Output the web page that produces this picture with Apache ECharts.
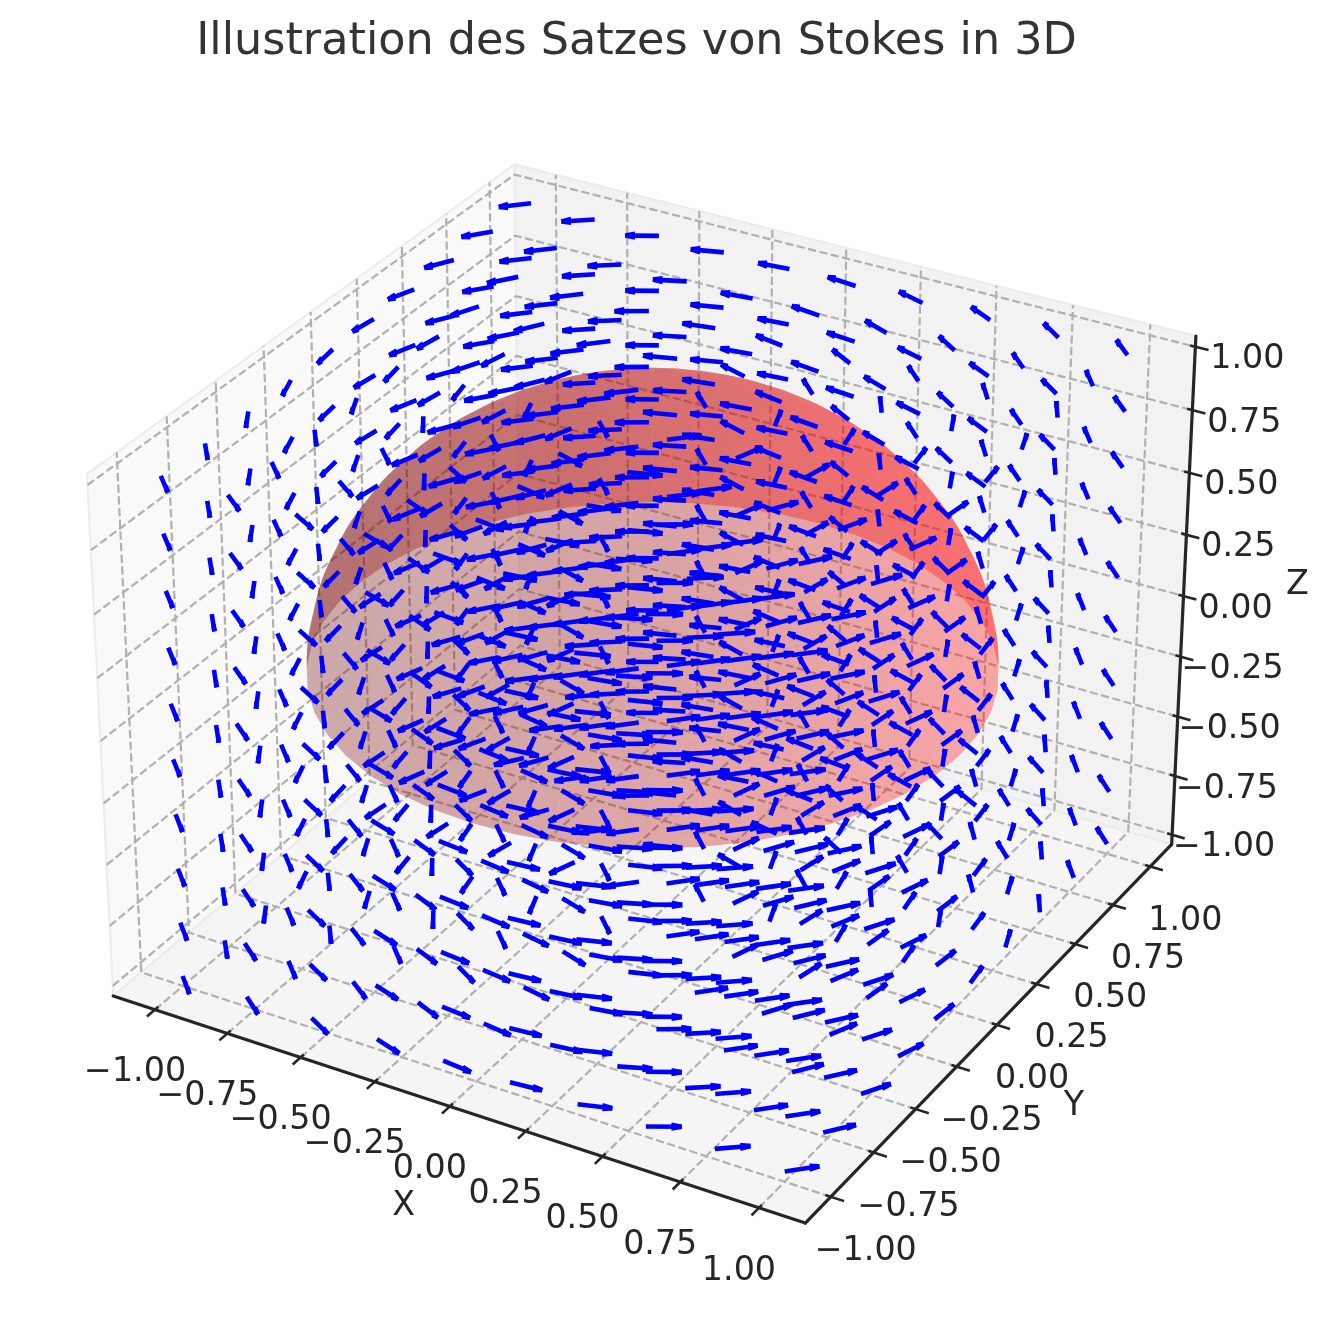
<!DOCTYPE html>
<html><head><meta charset="utf-8">
<style>html,body{margin:0;padding:0;background:#fff}#c{width:1327px;height:1322px}</style>
<script src="https://cdn.jsdelivr.net/npm/echarts@6/dist/echarts.min.js"></script>
</head><body><div id="c"></div>
<script>
const titleText = 'Illustration des Satzes von Stokes in 3D';
const axisNames = ['X', 'Y', 'Z'];
const tickValues = [-1, -0.75, -0.5, -0.25, 0, 0.25, 0.5, 0.75, 1];
const tickLabels = ['\u22121.00', '\u22120.75', '\u22120.50', '\u22120.25', '0.00', '0.25', '0.50', '0.75', '1.00'];
const xLimits = [-1.1, 1.1];
const yLimits = [-1.1, 1.1];
const zLimits = [-1, 1];
const arrowX = [-1, -0.7778, -0.5556, -0.3333, -0.1111, 0.1111, 0.3333, 0.5556, 0.7778, 1];
const arrowY = [-1, -0.7778, -0.5556, -0.3333, -0.1111, 0.1111, 0.3333, 0.5556, 0.7778, 1];
const arrowZ = [-1, -0.7778, -0.5556, -0.3333, -0.1111, 0.1111, 0.3333, 0.5556, 0.7778, 1];
const arrowLength = 0.1;
const arrowHeadRatio = 0.3;
// heading in the x-y plane (degrees from +x), one row per arrowY value
const arrowHeading = [
 [-45,-37.87,-29.05,-18.43,-6.34,6.34,18.43,29.05,37.87,45],
 [-52.13,-45,-35.54,-23.2,-8.13,8.13,23.2,35.54,45,52.13],
 [-60.95,-54.46,-45,-30.96,-11.31,11.31,30.96,45,54.46,60.95],
 [-71.57,-66.8,-59.04,-45,-18.43,18.43,45,59.04,66.8,71.57],
 [-83.66,-81.87,-78.69,-71.57,-45,45,71.57,78.69,81.87,83.66],
 [-96.34,-98.13,-101.31,-108.43,-135,135,108.43,101.31,98.13,96.34],
 [-108.43,-113.2,-120.96,-135,-161.57,161.57,135,120.96,113.2,108.43],
 [-119.05,-125.54,-135,-149.04,-168.69,168.69,149.04,135,125.54,119.05],
 [-127.87,-135,-144.46,-156.8,-171.87,171.87,156.8,144.46,135,127.87],
 [-135,-142.13,-150.95,-161.57,-173.66,173.66,161.57,150.95,142.13,135]
];
const domeRadius = 1;
const domeAzimuth = [0,7.5,15,22.5,30,37.5,45,52.5,60,67.5,75,82.5,90,97.5,105,112.5,120,127.5,135,142.5,150,157.5,165,172.5,180,187.5,195,202.5,210,217.5,225,232.5,240,247.5,255,262.5,270,277.5,285,292.5,300,307.5,315,322.5,330,337.5,345,352.5,360];
const domePolar = [0,2,4,6,8,10,12,14,16,18,20,22,24,26,28,30,32,34,36,38,40,42,44,46,48,50,52,54,56,58,60,62,64,66,68,70,72,74,76,78,80,82,84,86,88,90];

// --- mplot3d-style camera: elevation 30, azimuth -60, distance 10
const boxAspect = [1.19048, 1.19048, 0.89286];
const camU = [0.86603, 0.5, 0], camV = [-0.25, 0.43301, 0.86603], camW = [0.43301, -0.75, 0.5];
const camDist = 10;
const dot = (a, b) => a[0]*b[0] + a[1]*b[1] + a[2]*b[2];
function boxCoords(p) {
  return [
    (p[0] - (xLimits[0]+xLimits[1])/2) / (xLimits[1]-xLimits[0]) * boxAspect[0],
    (p[1] - (yLimits[0]+yLimits[1])/2) / (yLimits[1]-yLimits[0]) * boxAspect[1],
    (p[2] - (zLimits[0]+zLimits[1])/2) / (zLimits[1]-zLimits[0]) * boxAspect[2]
  ];
}
function project(p) {
  const q = boxCoords(p), w = camDist - dot(q, camW);
  return [dot(q, camU)/w, dot(q, camV)/w];
}
const depth = p => dot(boxCoords(p), camW);

const padX = (xLimits[1]-xLimits[0])/48, padY = (yLimits[1]-yLimits[0])/48, padZ = (zLimits[1]-zLimits[0])/48;
const x0 = xLimits[0]-padX, x1 = xLimits[1]+padX, y0 = yLimits[0]-padY, y1 = yLimits[1]+padY, z0 = zLimits[0]-padZ, z1 = zLimits[1]+padZ;

// --- panes
const paneRows = [
  {color:'#f9f9f9', pts:[[x0,y0,z0],[x0,y1,z0],[x0,y1,z1],[x0,y0,z1]]},
  {color:'#f2f2f2', pts:[[x0,y1,z0],[x1,y1,z0],[x1,y1,z1],[x0,y1,z1]]},
  {color:'#f5f5f5', pts:[[x0,y0,z0],[x1,y0,z0],[x1,y1,z0],[x0,y1,z0]]}
];
// --- grid polylines
const gridRows = [];
tickValues.forEach(t => {
  gridRows.push([[t,y0,z0],[t,y1,z0],[t,y1,z1]]);
  gridRows.push([[x1,t,z0],[x0,t,z0],[x0,t,z1]]);
  gridRows.push([[x0,y0,t],[x0,y1,t],[x1,y1,t]]);
});
// --- dome cells, far ones first
const toRad = Math.PI/180;
const spherePoint = (a, p) => [domeRadius*Math.cos(a*toRad)*Math.sin(p*toRad), domeRadius*Math.sin(a*toRad)*Math.sin(p*toRad), domeRadius*Math.cos(p*toRad)];
const light = [-0.6667, -0.6667, 0.3333];
const domeCells = [];
for (let i = 0; i < domeAzimuth.length-1; i++) for (let j = 0; j < domePolar.length-1; j++) {
  const pts = [spherePoint(domeAzimuth[i],domePolar[j]), spherePoint(domeAzimuth[i+1],domePolar[j]), spherePoint(domeAzimuth[i+1],domePolar[j+1]), spherePoint(domeAzimuth[i],domePolar[j+1])];
  const c = [0,1,2].map(k => (pts[0][k]+pts[1][k]+pts[2][k]+pts[3][k])/4);
  const n = Math.hypot(c[0],c[1],c[2]);
  const shade = -dot(c, light)/n;
  domeCells.push({pts, d: depth(c), k: Math.min(1, 0.45 + 0.7*(shade+1)/2)});
}
domeCells.sort((a,b) => a.d-b.d);
// --- arrows
const arrowRows = [];
arrowZ.forEach(z => arrowY.forEach((y,j) => arrowX.forEach((x,i) => arrowRows.push([x,y,z,arrowHeading[j][i]]))));

function polyItem(api, pts, style, closed) {
  const points = pts.map(p => api.coord(project(p)));
  return closed ? {type:'polygon', shape:{points}, style} : {type:'polyline', shape:{points}, style};
}
const lineSeries = (data, renderItem) => ({type:'custom', coordinateSystem:'cartesian2d', data, renderItem, silent:true, clip:false, animation:false, progressive:0, encode:{x:[],y:[]}});
const idx = arr => arr.map((_, i) => [i]);

// --- axes furniture
const axisLines = [[[x0,y0,z0],[x1,y0,z0]], [[x1,y0,z0],[x1,y1,z0]], [[x1,y1,z0],[x1,y1,z1]]];
const tickIn = 0.017, tickOut = 0.042;
const tickSegs = [];
tickValues.forEach(t => {
  tickSegs.push([[t,y0+tickIn,z0],[t,y0-tickOut,z0]]);
  tickSegs.push([[x1-tickIn,t,z0],[x1+tickOut,t,z0]]);
  tickSegs.push([[x1-tickIn,y1,t],[x1+tickOut,y1,t]]);
});
const labelRows = [];
tickValues.forEach((t,i) => {
  labelRows.push({p:[t,y0,z0], dx:-20, dy:63, text:tickLabels[i]});
  labelRows.push({p:[x1,t,z0], dx:35, dy:54.5, text:tickLabels[i]});
  labelRows.push({p:[x1,y1,t], dx:52, dy:13, text:tickLabels[i]});
});
const nameRows = [
  {p:[0,y0,z0], dx:-46, dy:100, text:axisNames[0]},
  {p:[x1,0,z0], dx:77, dy:81, text:axisNames[1]},
  {p:[x1,y1,0], dx:114, dy:-11, text:axisNames[2]}
];
const textColor = '#262626';
const textItem = (api, r, size) => {
  const c = api.coord(project(r.p));
  return {type:'text', x:c[0]+r.dx, y:c[1]+r.dy, style:{text:r.text, fill:textColor, font:size+'px "DejaVu Sans"', textAlign:'center', textVerticalAlign:'middle'}};
};

const chart = echarts.init(document.getElementById('c'), null, {renderer:'canvas'});
chart.setOption({
  animation:false,
  backgroundColor:'#ffffff',
  title:{text:titleText, left:631.5, top:15, textAlign:'center', textStyle:{fontFamily:'DejaVu Sans', fontSize:44.5, fontWeight:'normal', color:'#333333'}},
  grid:{left:0, right:0, top:0, bottom:0},
  xAxis:{type:'value', min:-0.10211, max:0.10552, show:false},
  yAxis:{type:'value', min:-0.10246, max:0.10440, show:false},
  series:[
    lineSeries(idx(paneRows), (params, api) => { const r = paneRows[params.dataIndex];
      return polyItem(api, r.pts, {fill:r.color, stroke:'#ececec', lineWidth:2}, true); }),
    lineSeries(idx(gridRows), (params, api) => polyItem(api, gridRows[params.dataIndex], {fill:'none', stroke:'#b0b0b0', lineWidth:2.2, lineDash:[8.2,3.5]}, false)),
    lineSeries(idx(domeCells), (params, api) => { const r = domeCells[params.dataIndex];
      return polyItem(api, r.pts, {fill:`rgba(${Math.round(r.k*255)},0,0,0.325)`}, true); }),
    lineSeries(arrowRows, (params, api) => {
      const r = arrowRows[params.dataIndex], a = r[3]*toRad;
      const tail = [r[0],r[1],r[2]], ux = Math.cos(a), uy = Math.sin(a);
      const tip = [r[0]+ux*arrowLength, r[1]+uy*arrowLength, r[2]];
      const hl = arrowLength*arrowHeadRatio, cs = Math.cos(15*toRad), sn = Math.sin(15*toRad);
      const h1 = [tip[0]-ux*hl*cs, tip[1]-uy*hl*cs, tip[2]+hl*sn];
      const h2 = [tip[0]-ux*hl*cs, tip[1]-uy*hl*cs, tip[2]-hl*sn];
      const style = {fill:'none', stroke:'#0000ff', lineWidth:4.6, lineCap:'butt'};
      return {type:'group', children:[polyItem(api,[tail,tip],style,false), polyItem(api,[h1,tip],style,false), polyItem(api,[h2,tip],style,false)]};
    }),
    lineSeries(idx(axisLines), (params, api) => polyItem(api, axisLines[params.dataIndex], {fill:'none', stroke:textColor, lineWidth:3.2, lineCap:'round'}, false)),
    lineSeries(idx(tickSegs), (params, api) => polyItem(api, tickSegs[params.dataIndex], {fill:'none', stroke:textColor, lineWidth:2.6}, false)),
    lineSeries(idx(labelRows), (params, api) => textItem(api, labelRows[params.dataIndex], 33.3)),
    lineSeries(idx(nameRows), (params, api) => textItem(api, nameRows[params.dataIndex], 33.3))
  ]
});
</script></body></html>
